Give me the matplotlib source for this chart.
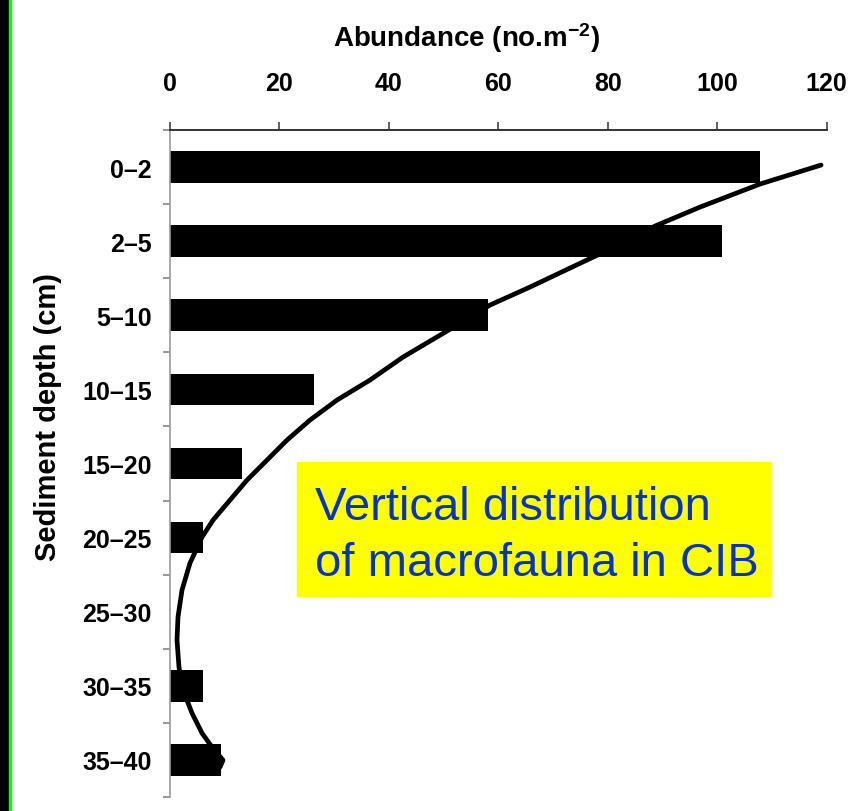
import matplotlib
matplotlib.use('Agg')
import matplotlib.pyplot as plt
from matplotlib.patches import Rectangle

# ---- data ----
depth_labels = ['0–2', '2–5', '5–10', '10–15', '15–20', '20–25', '25–30', '30–35', '35–40']
abundance = [107.9, 100.8, 58.2, 26.3, 13.2, 6.1, 0.0, 6.1, 9.4]
x_ticks = [0, 20, 40, 60, 80, 100, 120]
# fitted curve (abundance, depth-class index)
curve_x = [118.97, 107.82, 96.86, 88.63, 80.41, 73.10, 65.79, 58.48, 50.62, 42.58,
           36.55, 30.52, 25.58, 21.38, 17.73, 14.07, 10.96, 7.86, 5.85, 3.65,
           2.19, 1.46, 1.28, 1.64, 2.38, 4.02, 5.85, 7.68, 9.69, 9.14]
curve_y = [-0.027, 0.229, 0.540, 0.796, 1.107, 1.363, 1.619, 1.862, 2.213, 2.564,
           2.874, 3.144, 3.414, 3.684, 3.954, 4.224, 4.494, 4.764, 4.993, 5.344,
           5.709, 6.073, 6.383, 6.748, 7.058, 7.368, 7.638, 7.827, 8.003, 8.097]

plt.rcParams['mathtext.default'] = 'regular'

W, H = 863, 812
fig = plt.figure(figsize=(W / 100, H / 100), dpi=100)
fig.patch.set_facecolor('white')

# left border strip (black + green line)
fig.add_artist(Rectangle((0, 0), 9 / W, 1, transform=fig.transFigure, color='black', zorder=0))
fig.add_artist(Rectangle((9 / W, 0), 2 / W, 1, transform=fig.transFigure, color='#00ff00', zorder=0))

ax = fig.add_axes([170 / W, 1 - 798 / H, 656.7 / W, 667 / H])
pos = list(range(len(depth_labels)))
ax.barh(pos, abundance, height=0.427, color='black', zorder=2)
ax.plot(curve_x, curve_y, color='black', lw=3.4, solid_capstyle='round',
        solid_joinstyle='round', zorder=3, clip_on=False)

ax.set_xlim(0, 120)
ax.set_ylim(8.5, -0.5)

for s in ['right', 'bottom']:
    ax.spines[s].set_visible(False)
ax.spines['top'].set_color('#333333')
ax.spines['top'].set_linewidth(1.4)
ax.spines['left'].set_color('#999999')
ax.spines['left'].set_linewidth(1.2)

tick_families = ['Liberation Sans Narrow', 'DejaVu Sans Condensed', 'Liberation Sans']
tick_font = dict(family=tick_families, weight='bold', size=18)
ax.xaxis.tick_top()
ax.set_xticks(x_ticks)
ax.set_xticklabels([str(v) for v in x_ticks], fontdict=tick_font)
ax.tick_params(axis='x', direction='out', length=6, width=1.2, color='#444444', pad=19)

ax.set_yticks(pos)
ax.set_yticklabels(depth_labels, fontdict=tick_font)
ax.set_yticks([p - 0.5 for p in pos] + [8.5], minor=True)
ax.tick_params(axis='y', which='major', length=0, pad=13)
ax.tick_params(axis='y', which='minor', direction='out', length=5, width=1.2, color='#888888')

fig.text(467 / W, 1 - 47 / H, 'Abundance (no.m$^{-2}$)', ha='center', va='baseline',
         family='Liberation Sans', weight='bold', size=20)
ax.set_ylabel('Sediment depth (cm)', family='Liberation Sans', weight='bold', size=21,
              va='center')
ax.yaxis.set_label_coords((48 - 170) / 656.7, (798 - 417) / 667)

# yellow annotation box
fig.add_artist(Rectangle((297 / W, 1 - 597 / H), (771 - 297) / W, (597 - 463) / H,
                         transform=fig.transFigure, color='#ffff00', zorder=4))
fig.text(315 / W, 1 - 520 / H, 'Vertical distribution', ha='left', va='baseline',
         family='Liberation Sans', size=34, color='#0433cc', zorder=5)
fig.text(315 / W, 1 - 576 / H, 'of macrofauna in CIB', ha='left', va='baseline',
         family='Liberation Sans', size=34, color='#0433cc', zorder=5)

fig.savefig('out.png', dpi=100)
